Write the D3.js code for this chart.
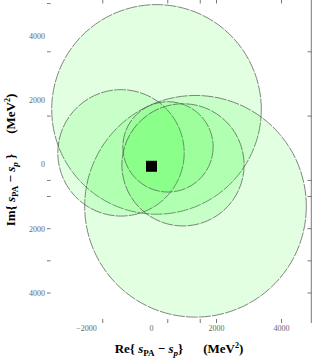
<!DOCTYPE html>
<html>
<head>
<meta charset="utf-8">
<script src="https://cdn.jsdelivr.net/npm/d3@7"></script>
<style>
  body { margin: 0; background: #fff; }
  svg { display: block; }
  .tick-label { font-family: "Liberation Serif", "DejaVu Serif", serif; font-size: 8px; }
  .axis-title { font-family: "Liberation Serif", "DejaVu Serif", serif; font-size: 13px; font-weight: bold; }
</style>
</head>
<body>
<div id="chart"></div>
<script>

// circles in the complex plane (MeV^2)
const circleRe = [154, 1354, -938, 508, 969];
const circleIm = [1708, -1304, 357, 543, -15];
const circleR  = [3225, 3410, 1945, 1390, 1880];

// pole position (black square)
const poleRe = 0;
const poleIm = -60;

// labelled ticks
const xLabelTicks = [-2000, 0, 2000, 4000];
const xLabelText  = ['\u22122000', '0', '2000', '4000'];
const yLabelTicks = [4000, 2000, 0, -2000, -4000];
const yLabelText  = ['4000', '2000', '0', '2000', '4000'];

// small tick marks of the frame
const xMarks = [-1500, 500, 1500, 2000, 4000];
const yMarksLeft  = [5000, 3500, 1500, -500, -1000, -2000, -3000, -4000];
const yMarksRight = [3500, 1500, -500, -1000, -2000, -3000, -4000];

const width = 312, height = 358;

const svg = d3.select('#chart')
.append('svg')
.attr('width', width)
.attr('height', height)

const x = d3.scaleLinear()
.domain([-2000, 4000])
.range([86.5, 281.5])

const y = d3.scaleLinear()
.domain([-4000, 4000])
.range([293, 35.7])

const pxPerUnit = (x(1000) - x(0)) / 1000;

//================CIRCLES======================================

const circles = circleRe.map((re, i) => ({re, im: circleIm[i], r: circleR[i]}));

svg.append('g')
.selectAll('circle')
.data(circles)
.enter()
.append('circle')
.attr('cx', d => x(d.re))
.attr('cy', d => y(d.im))
.attr('r', d => d.r * pxPerUnit)
.attr('fill', 'rgb(0,255,0)')
.attr('fill-opacity', 0.115)
.attr('stroke', '#505050')
.attr('stroke-width', 0.7)
.attr('stroke-dasharray', '12,1.2')

// pole
const sq = 11;
svg.append('rect')
.attr('x', x(poleRe) - sq / 2)
.attr('y', y(poleIm) - sq / 2)
.attr('width', sq)
.attr('height', sq)
.attr('fill', '#000')

//================FRAME======================================

const frame = svg.append('g')
.attr('stroke', '#555')
.attr('stroke-width', 0.8)

// right frame line
frame.append('line')
.attr('x1', 311.3).attr('x2', 311.3)
.attr('y1', 0).attr('y2', 323)

frame.selectAll('.rt')
.data(yMarksRight)
.enter()
.append('line')
.attr('x1', 307.5).attr('x2', 311.3)
.attr('y1', d => y(d)).attr('y2', d => y(d))

frame.selectAll('.lt')
.data(yMarksLeft)
.enter()
.append('line')
.attr('x1', 47).attr('x2', 50.5)
.attr('y1', d => y(d)).attr('y2', d => y(d))

frame.selectAll('.tt')
.data(xMarks)
.enter()
.append('line')
.attr('x1', d => x(d)).attr('x2', d => x(d))
.attr('y1', 0).attr('y2', 3.5)

frame.selectAll('.bt')
.data(xMarks)
.enter()
.append('line')
.attr('x1', d => x(d)).attr('x2', d => x(d))
.attr('y1', 319).attr('y2', 323)

// tick labels, grey, in a group with opacity so they stay neutral
const labels = svg.append('g')
.attr('opacity', 0.99)

labels.selectAll('.xl')
.data(xLabelTicks)
.enter()
.append('text')
.attr('class', 'tick-label')
.attr('fill', '#666')
.attr('x', d => x(d))
.attr('y', 331)
.attr('text-anchor', 'middle')
.text((d, i) => xLabelText[i])

labels.selectAll('.yl')
.data(yLabelTicks)
.enter()
.append('text')
.attr('class', 'tick-label')
.attr('fill', '#666')
.attr('x', 45)
.attr('y', d => y(d) + 3)
.attr('text-anchor', 'end')
.text((d, i) => yLabelText[i])

//================AXIS TITLES======================================

const addTitle = (g, head, gapBrace) => {
	g.append('tspan').text(head + '{ ')
	g.append('tspan').attr('font-style', 'italic').text('s')
	g.append('tspan').attr('font-size', '9px').attr('dy', 3).text('PA')
	g.append('tspan').attr('dy', -3).text(' \u2212 ')
	g.append('tspan').attr('font-style', 'italic').text('s')
	g.append('tspan').attr('font-style', 'italic').attr('font-size', '9px').attr('dy', 3).text('p')
	g.append('tspan').attr('dy', -3).text(gapBrace ? ' }' : '}')
	g.append('tspan').attr('dx', 20).text('(MeV')
	g.append('tspan').attr('font-size', '8px').attr('dy', -5).text('2')
	g.append('tspan').attr('dy', 5).text(')')
}

const xTitle = svg.append('text')
.attr('class', 'axis-title')
.attr('fill', '#000')
.attr('x', 179)
.attr('y', 353)
.attr('text-anchor', 'middle')
addTitle(xTitle, 'Re', false)

const yTitle = svg.append('text')
.attr('class', 'axis-title')
.attr('fill', '#000')
.attr('transform', 'translate(15,160) rotate(-90)')
.attr('text-anchor', 'middle')
addTitle(yTitle, 'Im', true)

</script>
</body>
</html>
